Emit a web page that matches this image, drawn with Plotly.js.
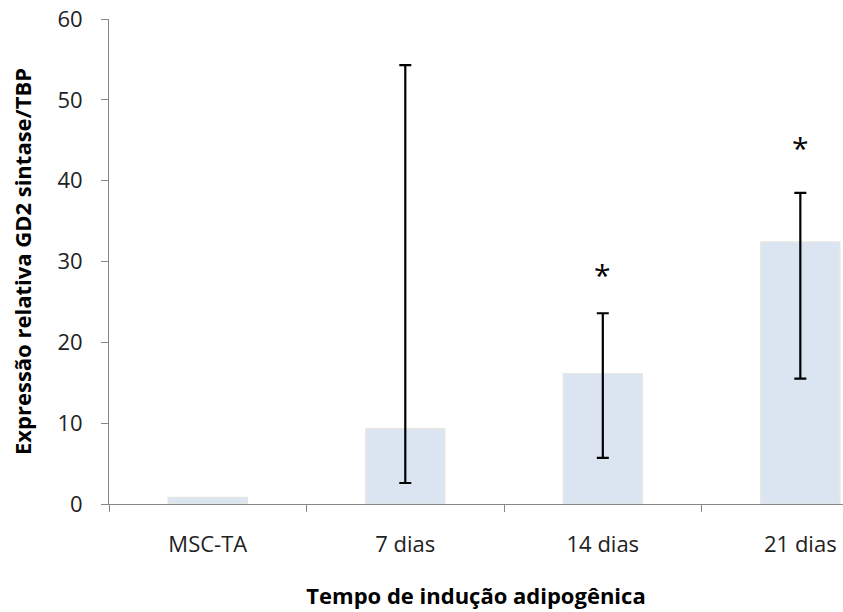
<!DOCTYPE html>
<html>
<head>
<meta charset="utf-8">
<script src="https://cdn.plot.ly/plotly-3.0.1.min.js"></script>
<style>html,body{margin:0;padding:0;background:#fff;}#chart{width:843px;height:612px;}</style>
</head>
<body>
<div id="chart"></div>
<script>
const categories = ["MSC-TA", "7 dias", "14 dias", "21 dias"];
const means = [0.8, 9.3, 16.1, 32.4];
const errCategories = ["7 dias", "14 dias", "21 dias"];
const errMeans = [9.3, 16.1, 32.4];
const errPlus = [45.0, 7.5, 6.1];
const errMinus = [6.7, 10.4, 16.9];
const starCategories = ["14 dias", "21 dias"];
const starY = [28.7, 44.4];

const font = "Open Sans, Liberation Sans, sans-serif";

const bars = {
  type: "bar",
  x: categories,
  y: means,
  width: 0.4,
  marker: {color: "#dbe5f1", line: {color: "#e6e6e6", width: 1.5}},
  hoverinfo: "skip"
};

const errs = {
  type: "scatter",
  mode: "none",
  x: errCategories,
  y: errMeans,
  error_y: {
    type: "data",
    symmetric: false,
    array: errPlus,
    arrayminus: errMinus,
    color: "#000000",
    thickness: 2.2,
    width: 6,
    visible: true
  },
  hoverinfo: "skip"
};

const annotations = starCategories.map((c, i) => ({
  x: c, y: starY[i], xref: "x", yref: "y",
  text: "*", showarrow: false,
  font: {family: font, size: 30, color: "#000"},
  yanchor: "middle", yshift: -2
}));

const layout = {
  width: 843, height: 612,
  margin: {l: 109, r: 0, t: 19, b: 108},
  paper_bgcolor: "#fff", plot_bgcolor: "#fff",
  showlegend: false,
  font: {family: font, color: "#404040"},
  xaxis: {
    type: "category",
    range: [-0.5, 3.216],
    tickson: "boundaries",
    ticks: "outside", ticklen: 7, tickcolor: "#868686",
    showline: true, linecolor: "#868686", linewidth: 1,
    showgrid: false, zeroline: false,
    ticklabelstandoff: 21,
    tickfont: {family: font, size: 22, color: "#222"},
    title: {text: "<b>Tempo de indução adipogênica</b>", font: {family: font, size: 22, color: "#000"}, standoff: 31}
  },
  yaxis: {
    range: [0, 60],
    dtick: 10,
    ticks: "outside", ticklen: 7, tickcolor: "#868686",
    showline: true, linecolor: "#868686", linewidth: 1,
    showgrid: false, zeroline: false,
    ticklabelstandoff: 14,
    tickfont: {family: font, size: 22, color: "#222"},
    title: {text: "<b>Expressão relativa GD2 sintase/TBP</b>", font: {family: font, size: 22, color: "#000"}, standoff: 19}
  },
  annotations: annotations
};

Plotly.newPlot("chart", [bars, errs], layout, {staticPlot: true, displayModeBar: false});
</script>
</body>
</html>
